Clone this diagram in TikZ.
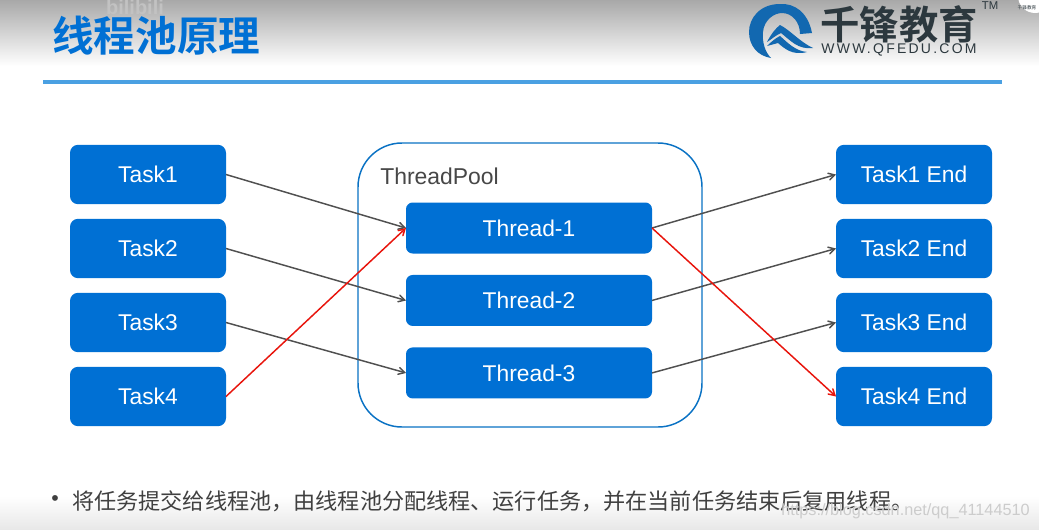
\documentclass[tikz,border=0pt]{standalone}
\usepackage{fontspec}
\setmainfont{Liberation Sans}
\newfontfamily\cjk{Noto Sans CJK SC}
\newfontfamily\cjkbold{Noto Sans CJK SC Bold}
\newfontfamily\logofont[LetterSpace=16]{Liberation Sans}
\usetikzlibrary{arrows, positioning}
\definecolor{boxcolor}{RGB}{0,112,212}
\definecolor{rulecolor}{RGB}{74,160,226}
\definecolor{poolcolor}{RGB}{10,114,196}
\definecolor{linecolor}{RGB}{80,80,80}
\definecolor{redcolor}{RGB}{232,20,12}
\definecolor{logocolor}{RGB}{44,56,62}
\definecolor{swirlcolor}{RGB}{18,104,176}

\begin{document}
\begin{tikzpicture}[
    x=0.75pt, y=-0.75pt,
    task/.style={rectangle, rounded corners=6pt, fill=boxcolor, text=white, minimum width=117pt, minimum height=44.5pt, outer sep=0pt, font=\fontsize{17.1}{20}\selectfont},
    thread/.style={rectangle, rounded corners=5pt, fill=boxcolor, text=white, minimum width=184.5pt, minimum height=38.25pt, outer sep=0pt, font=\fontsize{17.1}{20}\selectfont},
    pool/.style={rectangle, rounded corners=33pt, draw=poolcolor, line width=1.1pt, minimum width=258pt, minimum height=213pt, outer sep=0pt},
    arrow/.style={->, >=angle 60, linecolor, line width=1.1pt},
    redarrow/.style={->, >=angle 60, redcolor, line width=1.1pt},
    node distance=11pt
]

    % Page and shaded bands
    \useasboundingbox (0,0) rectangle (1039,529);
    \fill[white] (0,0) rectangle (1039,529);
    \shade[top color=black!34, bottom color=white] (0,0) rectangle (1039,66);
    \shade[top color=white, bottom color=black!9] (0,496) rectangle (1039,529);

    % Title
    \node[inner sep=0pt, text=black!24, font=\bfseries\fontsize{15}{15}\selectfont] (mark) at (135,7.5) {bilibili};
    \node[anchor=west, inner sep=0pt, text=boxcolor, font=\cjkbold\fontsize{31.2}{34}\selectfont] (title) at (52,36) {线程池原理};
    \fill[rulecolor] (43,79.5) rectangle (1002,83.5);

    % Logo
    \fill[swirlcolor] (812,33) .. controls (808,12) and (794,3) .. (780,4)
        .. controls (760,4) and (749,18) .. (749,32)
        .. controls (749,46) and (758,56) .. (771,58)
        .. controls (765,52) and (762,42) .. (763,32)
        .. controls (764,20) and (774,13) .. (782,13)
        .. controls (792,13) and (800,22) .. (800,34) -- cycle;
    \fill[swirlcolor] (767,42) .. controls (771,34) and (776,28) .. (780,25)
        .. controls (790,30) and (800,42) .. (813,48)
        .. controls (798,50) and (790,40) .. (781,33)
        .. controls (776,35) and (772,39) .. (767,42) -- cycle;
    \fill[swirlcolor] (767,46) .. controls (772,41) and (776,38) .. (780,36)
        .. controls (787,42) and (795,51) .. (807,52)
        .. controls (792,56) and (784,48) .. (778,43) -- cycle;
    \node[inner sep=0pt, text=logocolor, font=\cjkbold\fontsize{29.5}{31}\selectfont] (logoname) at (899,24) {千锋教育};
    \node[inner sep=0pt, text=logocolor, font=\logofont\fontsize{10.5}{12}\selectfont] (logourl) at (899,50) {WWW.QFEDU.COM};
    \node[inner sep=0pt, text=logocolor, font=\fontsize{8.5}{10}\selectfont] (logotm) at (990,6) {TM};
    \fill[white] (1035,-4) circle (17);
    \node[inner sep=0pt, text=logocolor, font=\cjk\fontsize{3.5}{4}\selectfont] (corner) at (1027,8) {千锋教育};

    % ThreadPool
    \node[pool] (pool) at (530,285) {};
    \node[anchor=west, inner sep=0pt, text=black!72, font=\fontsize{17.2}{20}\selectfont] (poolname) at (380,176) {ThreadPool};
    \node[thread] (thread1) at (529,228) {Thread-1};
    \node[thread, below=16.1pt of thread1] (thread2) {Thread-2};
    \node[thread, below=16.1pt of thread2] (thread3) {Thread-3};

    % Tasks
    \node[task] (task1) at (148,174.5) {Task1};
    \node[task, below=11pt of task1] (task2) {Task2};
    \node[task, below=11pt of task2] (task3) {Task3};
    \node[task, below=11pt of task3] (task4) {Task4};

    % Task ends
    \node[task] (end1) at (914,174.5) {Task1 End};
    \node[task, below=11pt of end1] (end2) {Task2 End};
    \node[task, below=11pt of end2] (end3) {Task3 End};
    \node[task, below=11pt of end3] (end4) {Task4 End};

    % Arrows
    \draw[arrow] (task1.east) -- (thread1.west);
    \draw[arrow] (task2.east) -- (thread2.west);
    \draw[arrow] (task3.east) -- (thread3.west);
    \draw[arrow] (thread1.east) -- (end1.west);
    \draw[arrow] (thread2.east) -- (end2.west);
    \draw[arrow] (thread3.east) -- (end3.west);
    \draw[redarrow] (task4.east) -- (thread1.west);
    \draw[redarrow] (thread1.east) -- (end4.west);

    % Note and watermark
    \node[anchor=center, inner sep=0pt, text=black!75, font=\fontsize{16}{18}\selectfont] (bullet) at (55,501) {•};
    \node[anchor=west, inner sep=0pt, text=black!75, font=\cjk\fontsize{16.6}{20}\selectfont] (note) at (72,501) {将任务提交给线程池，由线程池分配线程、运行任务，并在当前任务结束后复用线程。};
    \node[anchor=east, inner sep=0pt, text=black!20, font=\fontsize{12.2}{15}\selectfont] (url) at (1030,511) {https://blog.csdn.net/qq\_41144510};

\end{tikzpicture}
\end{document}
